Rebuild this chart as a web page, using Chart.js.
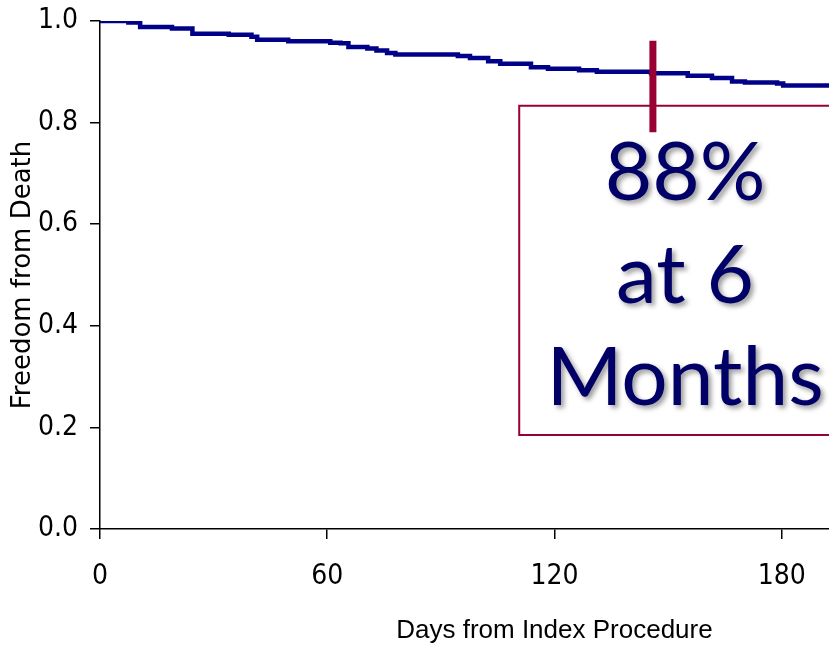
<!DOCTYPE html>
<html>
<head>
<meta charset="utf-8">
<script src="https://cdn.jsdelivr.net/npm/chart.js@4.4.1/dist/chart.umd.min.js"></script>
<style>
  html, body { margin: 0; padding: 0; background: #fff; }
  #wrap { width: 829px; height: 648px; }
</style>
</head>
<body>
<div id="wrap"><canvas id="myChart" width="829" height="648"></canvas></div>
<script>
// Kaplan-Meier steps
const days = [0, 7.5, 10.6, 19, 24.4, 34, 40, 41.5, 49.7, 60.8, 63.5, 65.6, 70.6, 73, 75.8, 78,
  94.5, 97.7, 102.5, 105.7, 113.8, 118.3, 126.5, 131.2, 145.5, 155.2, 161.6, 166.9, 170.3, 178.8, 180.4, 192.5];
const freedom = [1.0, 0.997, 0.988, 0.985, 0.975, 0.973, 0.969, 0.963, 0.960, 0.957, 0.956, 0.949, 0.946, 0.942, 0.937, 0.934,
  0.931, 0.927, 0.921, 0.916, 0.909, 0.906, 0.903, 0.900, 0.897, 0.892, 0.888, 0.881, 0.879, 0.877, 0.873, 0.873];

const xTicks = [0, 60, 120, 180];
const yTicks = [0, 0.2, 0.4, 0.6, 0.8, 1.0];

// callout: marker line and the box around the text
const markerDay = 146;
const markerFrom = 0.961, markerTo = 0.781;
const boxLeft = 110.7, boxRight = 200, boxTop = 0.833, boxBottom = 0.185;
const calloutLines = ['88%', 'at 6', 'Months'];
const calloutDay = 154.5;
const calloutBase = [0.647, 0.445, 0.244];

const xTitle = 'Days from Index Procedure';
const yTitle = 'Freedom from Death';

let i;
const curve = [];
for (i = 0; i < days.length; i++) {
  curve.push({x: days[i], y: freedom[i]});
}

const tickFont = {family: '"Liberation Sans Narrow", "DejaVu Sans Condensed", sans-serif', size: 28};

const calloutPlugin = {
  id: 'callout',
  afterDatasetsDraw(chart) {
    const ctx = chart.ctx;
    const xs = chart.scales.x, ys = chart.scales.y;
    ctx.save();
    ctx.font = '82px Lato, "Open Sans", sans-serif';
    ctx.textAlign = 'center';
    ctx.textBaseline = 'alphabetic';
    ctx.fillStyle = '#000066';
    ctx.shadowColor = 'rgba(0,0,0,0.4)';
    ctx.shadowOffsetX = 3;
    ctx.shadowOffsetY = 3;
    ctx.shadowBlur = 5;
    for (i = 0; i < calloutLines.length; i++) {
      ctx.fillText(calloutLines[i], xs.getPixelForValue(calloutDay), ys.getPixelForValue(calloutBase[i]));
    }
    ctx.restore();
  },
  afterDraw(chart) {
    const ctx = chart.ctx;
    const xs = chart.scales.x;
    ctx.save();
    ctx.font = '26px "Liberation Sans", Arial, sans-serif';
    ctx.textAlign = 'center';
    ctx.textBaseline = 'alphabetic';
    ctx.fillStyle = '#000';
    ctx.fillText(xTitle, xs.getPixelForValue(120), 638);
    ctx.restore();
  }
};

const ctx = document.getElementById('myChart').getContext('2d');
const kmChart = new Chart(ctx, {
  type: 'line',
  data: {
    datasets: [{
      label: 'marker',
      data: [{x: markerDay, y: markerFrom}, {x: markerDay, y: markerTo}],
      borderColor: '#990033',
      borderWidth: 7,
      borderCapStyle: 'butt',
      pointRadius: 0,
      clip: false
    }, {
      label: 'Freedom from Death',
      data: curve,
      stepped: true,
      borderColor: '#000088',
      borderWidth: 4.5,
      pointRadius: 0,
      fill: false
    }, {
      label: 'box',
      data: [{x: boxRight, y: boxTop}, {x: boxLeft, y: boxTop}, {x: boxLeft, y: boxBottom}, {x: boxRight, y: boxBottom}],
      borderColor: '#990033',
      borderWidth: 2,
      pointRadius: 0,
      tension: 0
    }]
  },
  options: {
    responsive: false,
    animation: false,
    devicePixelRatio: 1,
    layout: {padding: {top: 21, right: 0, left: 0, bottom: 0}},
    plugins: {legend: {display: false}, tooltip: {enabled: false}},
    scales: {
      x: {
        type: 'linear',
        min: 0,
        max: 192.5,
        afterBuildTicks: (scale) => { scale.ticks = xTicks.map(v => ({value: v})); },
        afterFit: (scale) => {
          scale.height = 119;
          scale.paddingLeft = 0;
          scale.paddingRight = 0;
        },
        border: {display: true, color: '#000', width: 1.5},
        grid: {drawOnChartArea: false, drawTicks: true, tickLength: 10, color: '#000', lineWidth: 1.5},
        ticks: {color: '#000', font: tickFont, padding: 21, maxRotation: 0}
      },
      y: {
        min: 0,
        max: 1,
        afterBuildTicks: (scale) => { scale.ticks = yTicks.map(v => ({value: v})); },
        afterFit: (scale) => {
          scale.width = 100;
          scale.paddingTop = 0;
          scale.paddingBottom = 0;
        },
        border: {display: true, color: '#000', width: 1.5},
        grid: {drawOnChartArea: false, drawTicks: true, tickLength: 10, color: '#000', lineWidth: 1.5},
        ticks: {color: '#000', font: tickFont, padding: 12, callback: (v) => Number(v).toFixed(1)},
        title: {
          display: true,
          text: yTitle,
          color: '#000',
          font: {family: '"DejaVu Sans", sans-serif', size: 26},
          padding: {top: 8, bottom: 0}
        }
      }
    }
  },
  plugins: [calloutPlugin]
});
</script>
</body>
</html>
